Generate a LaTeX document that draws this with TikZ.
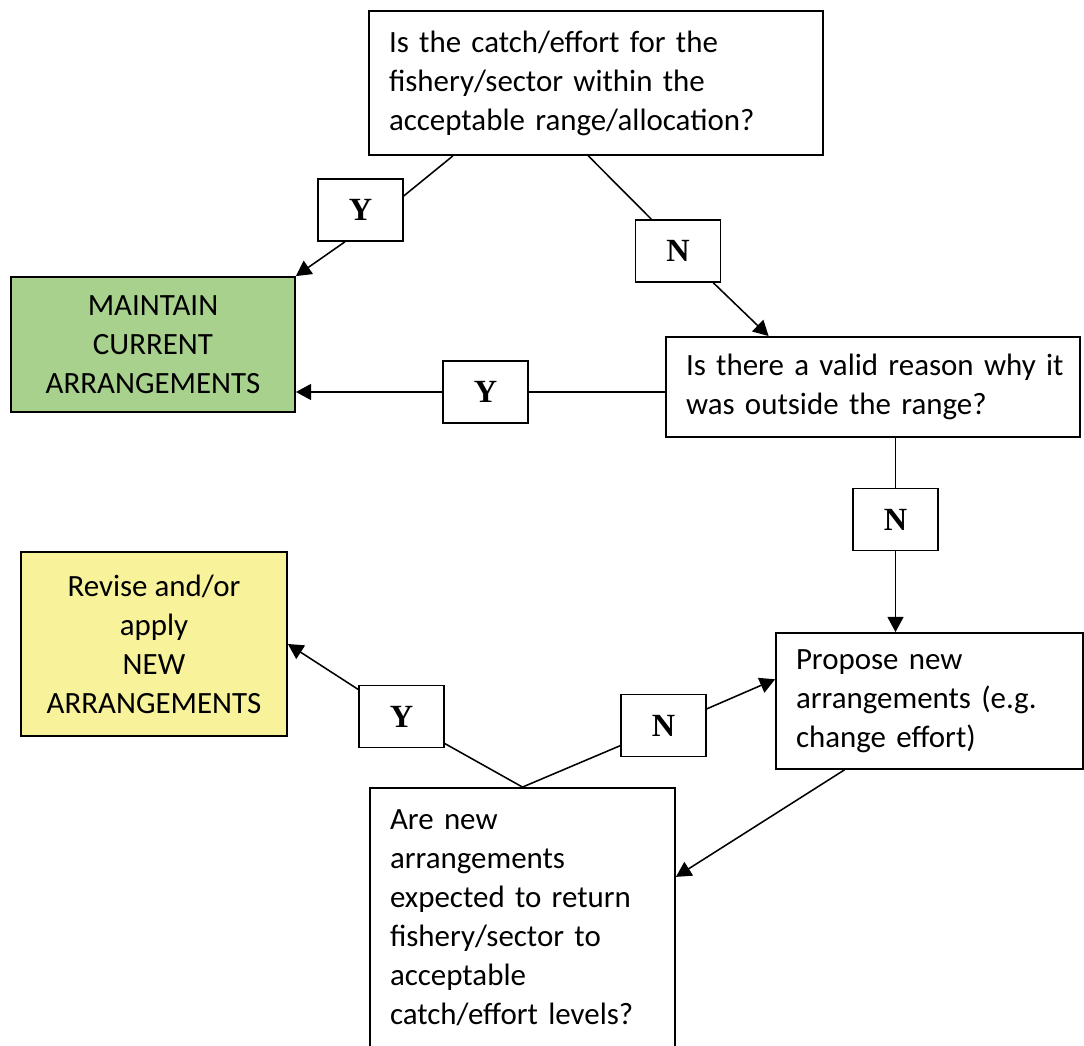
\documentclass[tikz,border=0pt]{standalone}
\usepackage{fontspec}
\setmainfont{Carlito}
\newfontfamily\labelfont{Liberation Serif}
\usetikzlibrary{arrows.meta}
\definecolor{keepgreen}{HTML}{A9D18E}
\definecolor{reviseyellow}{HTML}{F8F39A}
\tikzset{
  question/.style={draw, line width=1.3pt, align=left, inner xsep=0.5cm,
    font=\fontsize{22}{27.7}\selectfont},
  outcome/.style={draw, line width=1.3pt, align=center,
    font=\fontsize{22}{27.7}\selectfont},
  answer/.style={draw, line width=1.1pt, minimum width=2.125cm,
    minimum height=1.55cm, font=\labelfont\bfseries\fontsize{23}{27}\selectfont},
  link/.style={line width=1.1pt},
  arrow/.style={line width=1.1pt, -{Triangle[length=0.38cm,width=0.4cm]}}
}
\begin{document}
\begin{tikzpicture}
  \useasboundingbox (0, 0) rectangle (27.1, 26.15);

  % Questions
  \node [question, text width=10.35cm, minimum height=3.6cm] (catch)
        at (14.9, 24.075)
        {Is the catch/effort for the\\fishery/sector within the\\acceptable range/allocation?};
  \node [question, text width=9.35cm, minimum height=2.5cm] (reason)
        at (21.825, 16.475)
        {\mbox{Is there a valid reason why it}\\was outside the range?};
  \node [question, text width=6.675cm, minimum height=3.4cm] (propose)
        at (23.2375, 8.625)
        {Propose new\\arrangements (e.g.\\change effort)};
  \node [question, text width=6.625cm, minimum height=6.5cm] (expect)
        at (13.0625, 3.2)
        {Are new\\arrangements\\expected to return\\fishery/sector to\\acceptable\\catch/effort levels?};

  % Outcomes
  \node [outcome, fill=keepgreen, minimum width=7.1cm, minimum height=3.375cm]
        (maintain) at (3.825, 17.5375) {MAINTAIN\\CURRENT\\ARRANGEMENTS};
  \node [outcome, fill=reviseyellow, minimum width=6.65cm, minimum height=4.6cm]
        (revise) at (3.85, 10.05) {Revise and/or\\apply\\NEW\\ARRANGEMENTS};

  % Answers
  \node [answer] (yescatch) at (9.0125, 20.9) {Y};
  \node [answer] (nocatch) at (16.95, 19.875) {N};
  \node [answer] (yesreason) at (12.1375, 16.35) {Y};
  \node [answer] (noreason) at (22.3875, 13.1625) {N};
  \node [answer] (noexpect) at (16.5875, 8.0125) {N};
  \node [answer] (yesexpect) at (10.0375, 8.2375) {Y};

  % Edges
  \draw [link] (catch.207) -- (yescatch.18);
  \draw [arrow] (yescatch.244) -- (maintain.north east);
  \draw [link] (catch.264) -- (nocatch.130);
  \draw [arrow] (nocatch.318) -- (reason.154);
  \draw [link] (reason.west |- yesreason.east) -- (yesreason.east);
  \draw [arrow] (yesreason.west) -- (yesreason.west -| maintain.east);
  \draw [link] (reason.south -| noreason.north) -- (noreason.north);
  \draw [arrow] (noreason.south) -- (noreason.south |- propose.north);
  \draw [arrow] (propose.219) -- (expect.15);
  \draw [link] (expect.north) -- (noexpect.205);
  \draw [arrow] (noexpect.21) -- (propose.172);
  \draw [link] (expect.north) -- (yesexpect.328);
  \draw [arrow] (yesexpect.148) -- (revise.east);
\end{tikzpicture}
\end{document}
